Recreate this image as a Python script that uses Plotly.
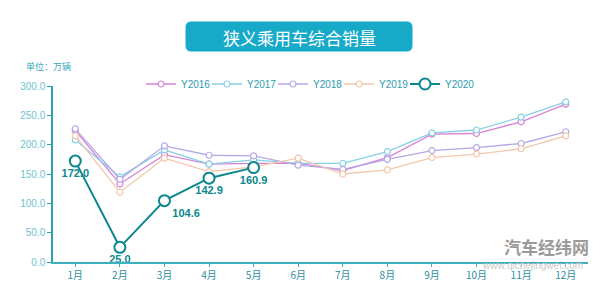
import plotly.graph_objects as go

months = ["1月", "2月", "3月", "4月", "5月", "6月", "7月", "8月", "9月", "10月", "11月", "12月"]
y2016 = [224, 133, 183, 167, 168, 168, 156, 178, 218, 219, 239, 269]
y2017 = [208, 145, 191, 167, 174, 168, 168, 188, 220, 225, 247, 273]
y2018 = [227, 141, 198, 182, 181, 165, 158, 175, 190, 195, 202, 222]
y2019 = [215, 119, 177, 154, 162, 177, 150, 157, 178, 184, 193, 215]
y2020 = [172.0, 25.0, 104.6, 142.9, 160.9]
y2020_pos = ["bottom center", "bottom center", "bottom right", "bottom center", "bottom center"]

W, H = 600, 294
L, R, T, B = 53, 12, 86, 32

def px2paper(x, y):
    return (x - L) / (W - L - R), (H - B - y) / (H - T - B)

fig = go.Figure()
series = [("Y2016", y2016, "#d982d8"), ("Y2017", y2017, "#86d0e6"),
          ("Y2018", y2018, "#b5a8e8"), ("Y2019", y2019, "#f5c6aa")]
for name, vals, col in series:
    fig.add_trace(go.Scatter(x=months, y=vals, name=name, mode="lines+markers",
                             line=dict(color=col, width=1.3),
                             marker=dict(symbol="circle", size=6, color="white",
                                         line=dict(color=col, width=1.2))))
fig.add_trace(go.Scatter(x=months[:len(y2020)], y=y2020, name="Y2020", mode="lines+markers+text",
                         line=dict(color="#0b8790", width=2),
                         marker=dict(symbol="circle", size=11, color="white",
                                     line=dict(color="#0b8790", width=2)),
                         text=[f"<b>{v:.1f}</b>" for v in y2020], textposition=y2020_pos,
                         textfont=dict(color="#0b8790", size=11, family="Liberation Sans"),
                         cliponaxis=False))
# empty spacer entry so the last legend label is not clipped
fig.add_trace(go.Scatter(x=[None], y=[None], name=" ", mode="lines",
                         line=dict(color="rgba(0,0,0,0)"), hoverinfo="skip"))

# rounded title box
x0, y0 = px2paper(186, 51)
x1, y1 = px2paper(412, 22)
rx = 5 / (W - L - R)
ry = 5 / (H - T - B)
path = (f"M {x0+rx},{y0} L {x1-rx},{y0} Q {x1},{y0} {x1},{y0+ry} L {x1},{y1-ry} "
        f"Q {x1},{y1} {x1-rx},{y1} L {x0+rx},{y1} Q {x0},{y1} {x0},{y1-ry} "
        f"L {x0},{y0+ry} Q {x0},{y0} {x0+rx},{y0} Z")
fig.add_shape(type="path", xref="paper", yref="paper", path=path,
              fillcolor="#17aac8", line=dict(color="#17aac8", width=1))

def note(text, px, py, size, color, family, xanchor="center"):
    ax, ay = px2paper(px, py)
    fig.add_annotation(text=text, xref="paper", yref="paper", x=ax, y=ay,
                       xanchor=xanchor, yanchor="middle", showarrow=False,
                       font=dict(color=color, size=size, family=family))

note("狭义乘用车综合销量", 299, 37, 17, "white", "Noto Sans CJK SC")
note("单位：万辆", 24, 66, 9, "#3aa8bc", "Noto Sans CJK SC", xanchor="left")
note("<b>汽车经纬网</b>", 546, 246, 17, "#9a9a9a", "Noto Sans CJK SC")
note("www.qichejingwei.com", 532, 265, 10, "#cacaca", "Liberation Sans")

lx, ly = px2paper(141, 84)
fig.update_layout(
    width=W, height=H, margin=dict(l=L, r=R, t=T, b=B, autoexpand=False),
    paper_bgcolor="white", plot_bgcolor="white",
    font=dict(family="Liberation Sans, Noto Sans CJK SC", size=10, color="#2b9cb0"),
    legend=dict(orientation="h", x=lx, xanchor="left",
                y=ly, yanchor="middle", font=dict(size=10, color="#2b9cb0"),
                itemwidth=30, entrywidth=21, entrywidthmode="pixels", tracegroupgap=0,
                bgcolor="rgba(0,0,0,0)"),
    showlegend=True,
)
fig.update_xaxes(showgrid=False, showline=True, linecolor="#3fb0c0", linewidth=2,
                 range=[-0.5, 11.5], automargin=False,
                 ticks="outside", ticklen=3, tickcolor="#3fb0c0",
                 tickfont=dict(color="#2b8ea0", size=10, family="Noto Sans CJK SC"),
                 zeroline=False)
fig.update_yaxes(range=[0, 300], dtick=50, tickformat=".1f", showgrid=False, showline=True,
                 automargin=False,
                 linecolor="#2ea0b2", linewidth=1.5, ticks="outside", ticklen=4, tickcolor="#2ea0b2",
                 tickfont=dict(color="#6cc4d2", size=10), zeroline=False)

fig.write_html("out.html")
